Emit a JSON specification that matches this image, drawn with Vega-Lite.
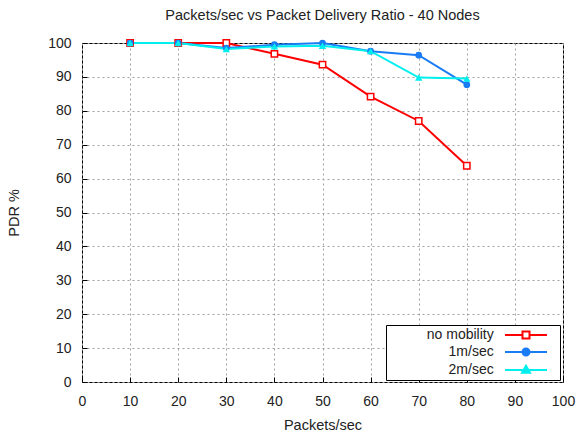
{
  "$schema": "https://vega.github.io/schema/vega-lite/v6.json",
  "width": 481,
  "height": 339,
  "autosize": {"type": "none"},
  "padding": {"left": 82, "top": 43, "right": 14, "bottom": 55},
  "background": "white",
  "title": {"text": "Packets/sec vs Packet Delivery Ratio - 40 Nodes", "font": "Liberation Sans", "fontSize": 14.5, "fontWeight": "normal", "color": "#222222", "offset": 13, "anchor": "middle"},
  "config": {
    "font": "Liberation Sans",
    "view": {"stroke": "#000000", "strokeWidth": 1},
    "axis": {
      "labelFont": "Liberation Sans", "labelFontSize": 14, "labelColor": "#222222",
      "titleFont": "Liberation Sans", "titleFontSize": 14.5, "titleFontWeight": "normal", "titleColor": "#222222",
      "grid": true, "gridColor": "#a0a0a0", "gridDash": [2, 3], "gridWidth": 1,
      "domain": false, "tickColor": "#000000"
    }
  },
  "data": {"values": [
    {"pps": 10, "pdr": 100, "series": "no mobility"},
    {"pps": 20, "pdr": 100, "series": "no mobility"},
    {"pps": 30, "pdr": 100, "series": "no mobility"},
    {"pps": 40, "pdr": 96.8, "series": "no mobility"},
    {"pps": 50, "pdr": 93.6, "series": "no mobility"},
    {"pps": 60, "pdr": 84.2, "series": "no mobility"},
    {"pps": 70, "pdr": 77.0, "series": "no mobility"},
    {"pps": 80, "pdr": 63.8, "series": "no mobility"},
    {"pps": 10, "pdr": 100, "series": "1m/sec"},
    {"pps": 20, "pdr": 100, "series": "1m/sec"},
    {"pps": 30, "pdr": 98.5, "series": "1m/sec"},
    {"pps": 40, "pdr": 99.5, "series": "1m/sec"},
    {"pps": 50, "pdr": 100, "series": "1m/sec"},
    {"pps": 60, "pdr": 97.6, "series": "1m/sec"},
    {"pps": 70, "pdr": 96.4, "series": "1m/sec"},
    {"pps": 80, "pdr": 87.7, "series": "1m/sec"},
    {"pps": 10, "pdr": 100, "series": "2m/sec"},
    {"pps": 20, "pdr": 100, "series": "2m/sec"},
    {"pps": 30, "pdr": 98.2, "series": "2m/sec"},
    {"pps": 40, "pdr": 99.0, "series": "2m/sec"},
    {"pps": 50, "pdr": 99.2, "series": "2m/sec"},
    {"pps": 60, "pdr": 97.6, "series": "2m/sec"},
    {"pps": 70, "pdr": 89.8, "series": "2m/sec"},
    {"pps": 80, "pdr": 89.5, "series": "2m/sec"}
  ]},
  "encoding": {
    "x": {"field": "pps", "type": "quantitative", "scale": {"domain": [0, 100], "nice": false, "zero": false},
      "axis": {"title": "Packets/sec", "values": [0,10,20,30,40,50,60,70,80,90,100], "titlePadding": 10, "labelPadding": 17, "tickSize": -5, "labelFlush": false}},
    "y": {"field": "pdr", "type": "quantitative", "scale": {"domain": [0, 100], "nice": false, "zero": false},
      "axis": {"title": "PDR %", "values": [0,10,20,30,40,50,60,70,80,90,100], "titlePadding": 26, "labelPadding": 16, "tickSize": -5, "labelFlush": false}}
  },
  "layer": [
    {"mark": {"type": "line", "strokeWidth": 2},
     "encoding": {
      "color": {"field": "series", "type": "nominal",
        "scale": {"domain": ["no mobility", "1m/sec", "2m/sec"], "range": ["#ff0000", "#1a7cf5", "#00eeee"]},
        "legend": {"title": null, "orient": "none", "legendX": 304, "legendY": 282,
          "fillColor": "white", "strokeColor": "#000000", "padding": 3, "rowPadding": 1,
          "labelFont": "Liberation Sans", "labelFontSize": 14, "labelColor": "#222222",
          "labelAlign": "right", "labelOffset": -39.3, "symbolOffset": 130, "symbolSize": 100, "symbolStrokeWidth": 2,
          "encode": {"symbols": {"update": {
            "shape": {"signal": "datum.value === 'no mobility' ? 'M-27.2,0M-4.2,0H-0.7M0.7,0H4.2M5.4,0M-0.7,-0.7H0.7V0.7H-0.7Z' : datum.value === '1m/sec' ? 'M-27.2,0M-4.2,0H4.2M5.4,0M0.7,0A0.7,0.7 0 1 1 -0.7,0A0.7,0.7 0 1 1 0.7,0Z' : 'M-27.2,0M-4.2,0H4.2M5.4,0M0,-0.85L0.8,0.55H-0.8Z'"},
            "fill": {"signal": "datum.value === 'no mobility' ? 'white' : datum.value === '1m/sec' ? '#1a7cf5' : '#00eeee'"},
            "stroke": {"signal": "datum.value === 'no mobility' ? '#ff0000' : datum.value === '1m/sec' ? '#1a7cf5' : '#00eeee'"},
            "strokeWidth": {"value": 2},
            "opacity": {"value": 1}
          }}}
        }}
     }},
    {"transform": [{"filter": "datum.series === 'no mobility'"}],
     "mark": {"type": "point", "shape": "square", "size": 40, "filled": false, "stroke": "#ff0000", "fill": "white", "fillOpacity": 1, "strokeWidth": 1.5, "opacity": 1}},
    {"transform": [{"filter": "datum.series === '1m/sec'"}],
     "mark": {"type": "point", "shape": "circle", "size": 45, "filled": true, "color": "#1a7cf5", "opacity": 1}},
    {"transform": [{"filter": "datum.series === '2m/sec'"}],
     "mark": {"type": "point", "shape": "triangle-up", "size": 55, "filled": true, "color": "#00eeee", "opacity": 1}}
  ]
}
